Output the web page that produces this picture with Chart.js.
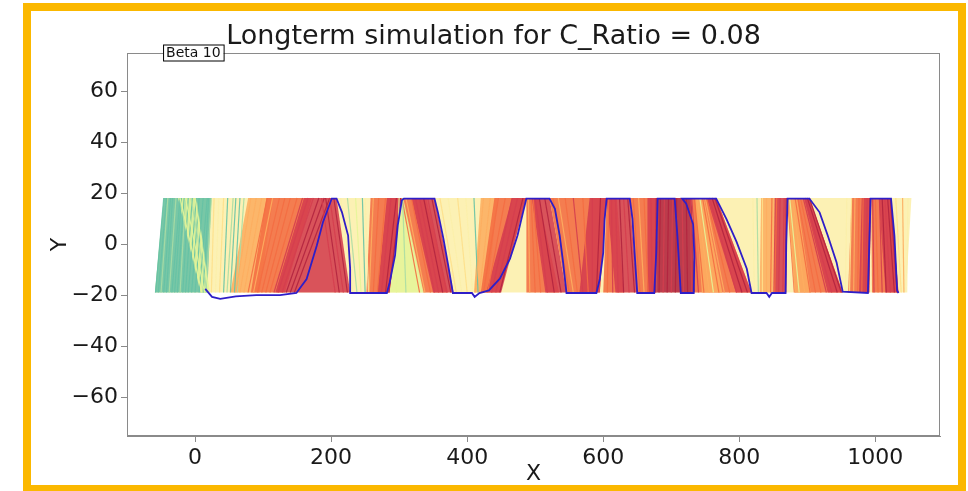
<!DOCTYPE html>
<html>
<head>
<meta charset="utf-8">
<script src="https://cdn.jsdelivr.net/npm/chart.js@4/dist/chart.umd.min.js"></script>
<style>
  html, body { margin: 0; padding: 0; background: #fff; }
  #wrap { position: relative; width: 968px; height: 491px; overflow: hidden; }
  #frame { position: absolute; left: 23px; top: 3px; width: 943px; height: 490px;
           box-sizing: border-box; border: 8px solid #fbb800; }
  #canvas { position: absolute; left: 0; top: 0; }
</style>
</head>
<body>
<div id="wrap">
  <div id="frame"></div>
  <canvas id="canvas" width="968" height="491"></canvas>
</div>
<script>
// tick labels
const xTicks = [0, 200, 400, 600, 800, 1000]
const yTicks = [-60, -40, -20, 0, 20, 40, 60]

// channel walls
const bandBottom = -18.8
const bandTop = 18.2

// colour levels (early -> late), spectral map
const spectral = ['#66c2a5', '#abdda4', '#e6f598', '#fcefaa', '#fee08b', '#fdae61', '#f46d43', '#d53e4f', '#b3233f']

// tracked trajectory (blue)
const blueX = [15,25,37,60,90,125,149,164,179,188,201,208,216,225,228,228,282,286,294,298,304,307,352,357,365,372,379,407,411,418,432,448,463,474,482,487,521,529,536,541,546,590,595,600,602,605,639,643,646,650,675,678,680,705,709,712,714,733,734,732,722,716,766,781,796,811,818,840,844,848,868,869,871,903,918,930,943,952,989,991,993,1023,1028,1032,1034]
const blueY = [-17.4,-20.5,-21.3,-20.3,-19.8,-19.8,-19,-13.5,-0.4,8.7,18,18,12.6,3.5,-9.5,-19,-19,-15,-4.3,7.5,17.3,18,18,12.6,2.4,-8,-19,-19,-20.5,-19,-18,-13.4,-5.5,3.5,12.5,18,18,14,3.5,-7,-19,-19,-13.5,-3.2,10,18,18,10,-3,-19,-19,-3,18,18,3.5,-10,-19,-19,-5,8,16,18,18,10,1,-9.5,-19,-19,-20.5,-19,-19,0,18,18,12.6,3.5,-7,-18.5,-19,0,18,18,3.5,-18,-19]

// dense trajectory bundles: x at bottom wall / top wall, colour level
const patchFootL = [-59,-59,8,52,82,118,252,268,335,350,286,410,420,428,487,515,546,565,600,618,650,665,678,735,745,795,830,850,880,882,930,960,976,995,1015]
const patchFootR = [1045,18,22,95,132,228,286,286,372,380,336,430,448,450,535,546,595,595,630,650,678,678,735,818,775,818,858,869,952,905,952,991,991,1034,1034]
const patchHeadR = [1053,24,2,115,172,208,304,304,340,352,306,445,487,487,505,521,605,605,620,639,680,680,730,766,748,766,860,870,903,885,903,994,994,1023,1023]
const patchHeadL = [-46,-46,-25,78,105,160,258,282,304,318,304,420,440,466,487,495,521,580,605,605,639,665,680,730,735,752,832,852,870,872,895,965,980,994,1005]
const patchTime = [3,0,2,5,6,7,6,7,6,7,2,5,6,7,6,7,6,7,6,7,6,7,8,6,5,7,5,7,6,5,7,6,7,6,7]

// single trajectories
const strandFoot = [
  -58,-54,-50,-46,-42,-38,-34,-30,-26,-22,-18,-14,-10,-5,0,6,12,16,
  10,14,18,20,
  24,30,36,42,47,52,58,62,
  60,66,72,78,86,92,98,104,110,116,122,128,134,140,146,
  206,212,218,224,
  232,238,244,250,255,
  256,262,268,274,280,285,
  330,338,346,352,358,364,370,376,296,310,
  384,392,400,408,416,
  412,418,424,430,436,442,448,
  492,500,508,518,528,538,
  550,556,562,570,578,584,590,
  606,614,622,630,638,646,
  654,660,666,672,677,
  682,688,694,700,706,718,724,730,
  740,748,756,762,770,778,786,796,804,812,
  822,828,834,840,846,852,858,864,868,
  882,888,896,904,912,920,928,936,944,950,
  956,962,968,974,980,986,990,
  998,1004,1010,1016,1022,1028,1032,
  1038,1042,1046
]
const strandHead = [
  -46,-42,-40,-36,-33,-28,-22,-20,-16,-14,-10,-4,2,6,12,18,20,24,
  -22,-14,-6,0,
  28,35,42,48,56,60,66,72,
  82,90,98,106,114,124,132,140,150,158,166,174,182,190,198,
  186,192,198,204,
  214,224,236,246,250,
  262,270,280,288,296,302,
  304,310,318,324,330,336,342,348,300,305,
  360,372,386,398,410,
  424,434,446,456,466,474,482,
  490,494,497,500,506,514,
  526,534,544,556,570,584,596,
  608,612,618,624,630,636,
  644,652,660,670,678,
  684,690,696,702,708,716,722,728,
  730,734,738,742,746,750,752,756,760,764,
  820,826,834,840,848,855,860,866,869,
  872,874,878,882,886,890,894,897,900,903,
  958,965,970,976,982,988,992,
  996,1000,1006,1010,1014,1018,1022,
  1030,1040,1048
]
const strandTime = [
  0,0,1,0,0,1,0,0,0,1,0,0,0,0,0,0,0,1,
  2,2,1,2,
  4,3,4,0,1,0,0,1,
  5,5,5,6,5,6,6,6,6,7,7,7,8,8,8,
  7,8,7,8,
  3,1,2,0,3,
  5,6,6,7,8,8,
  6,5,6,7,7,8,7,8,2,1,
  4,3,4,3,0,
  5,5,6,6,7,7,8,
  5,6,6,7,8,8,
  6,5,6,7,6,7,8,
  6,7,7,8,7,8,
  6,5,6,7,8,
  8,7,8,7,8,7,8,7,
  7,6,5,2,6,5,6,7,8,8,
  3,1,4,5,6,6,7,7,8,
  5,2,5,6,6,6,7,7,8,8,
  3,4,5,6,6,7,8,
  7,6,7,8,7,8,8,
  4,5,3
]

function rgba(hex, a) {
  const n = parseInt(hex.slice(1), 16)
  return 'rgba(' + (n >> 16) + ',' + ((n >> 8) & 255) + ',' + (n & 255) + ',' + a + ')'
}

const layers = []
strandTime.forEach((t, i) => {
  layers.push({
    data: [{x: strandFoot[i], y: bandBottom}, {x: strandHead[i], y: bandTop}],
    showLine: true, fill: false, borderWidth: 1.2,
    borderColor: rgba(spectral[t], 0.9), pointRadius: 0
  })
})
layers.push({
  data: blueX.map((x, i) => ({x: x, y: blueY[i]})),
  showLine: true, fill: false, borderWidth: 1.8,
  borderColor: '#2e1ec8', pointRadius: 0
})
// first in list is drawn at the bottom
layers.forEach((d, i) => { d.order = layers.length - i })

const minus = v => v < 0 ? '\u2212' + Math.abs(v) : String(v)

// bundles are filled polygons between the two walls, placed by the chart scales
const bundles = {
  id: 'bundles',
  beforeDatasetsDraw(chart) {
    const {ctx, chartArea: a, scales: {x, y}} = chart
    const yb = y.getPixelForValue(bandBottom)
    const yt = y.getPixelForValue(bandTop)
    ctx.save()
    ctx.beginPath()
    ctx.rect(a.left, a.top, a.width, a.height)
    ctx.clip()
    patchTime.forEach((t, i) => {
      ctx.beginPath()
      ctx.moveTo(x.getPixelForValue(patchFootL[i]), yb)
      ctx.lineTo(x.getPixelForValue(patchFootR[i]), yb)
      ctx.lineTo(x.getPixelForValue(patchHeadR[i]), yt)
      ctx.lineTo(x.getPixelForValue(patchHeadL[i]), yt)
      ctx.closePath()
      ctx.fillStyle = rgba(spectral[t], 0.88)
      ctx.fill()
    })
    ctx.restore()
  }
}

const frame = {
  id: 'frame',
  afterDatasetsDraw(chart) {
    const {ctx, chartArea: a, scales} = chart
    ctx.save()
    ctx.strokeStyle = '#8a8a8a'
    ctx.lineWidth = 1
    ctx.strokeRect(a.left + 0.5, a.top + 0.5, a.width - 1, a.height - 1)
    // "Beta 10" tag on the top wall
    ctx.font = '14px "DejaVu Sans"'
    const txt = 'Beta 10'
    const w = ctx.measureText(txt).width + 6
    const left = scales.x.getPixelForValue(-47)
    const mid = scales.y.getPixelForValue(75)
    ctx.fillStyle = '#fff'
    ctx.fillRect(left, mid - 8.5, w, 17)
    ctx.strokeStyle = '#000'
    ctx.strokeRect(left + 0.5, mid - 8, w, 16)
    ctx.fillStyle = '#111'
    ctx.textBaseline = 'middle'
    ctx.fillText(txt, left + 3, mid + 0.5)
    ctx.restore()
  }
}

Chart.defaults.font.family = '"DejaVu Sans"'

const axisStyle = {
  grid: {display: true, drawOnChartArea: false, drawTicks: true, tickLength: 6, color: '#8a8a8a'},
  border: {display: true, color: '#8a8a8a'},
  ticks: {font: {size: 22}, color: '#1a1a1a', padding: 3, maxRotation: 0, autoSkip: false, callback: minus}
}

const config = {
  type: 'scatter',
  data: {datasets: layers},
  options: {
    responsive: false,
    animation: false,
    devicePixelRatio: 1,
    layout: {padding: {left: 47, right: 28, top: 18, bottom: 4}},
    plugins: {
      legend: {display: false},
      tooltip: {enabled: false},
      title: {
        display: true,
        text: 'Longterm simulation for C_Ratio = 0.08',
        font: {size: 27, weight: 'normal'},
        color: '#1a1a1a',
        padding: {top: 2.3, bottom: 0.3}
      }
    },
    scales: {
      x: Object.assign({}, axisStyle, {
        type: 'linear', position: 'bottom', min: -100, max: 1095,
        title: {display: true, text: 'X', font: {size: 22}, color: '#1a1a1a', padding: 0},
        afterBuildTicks: s => { s.ticks = xTicks.map(v => ({value: v})) },
        afterFit: s => { s.height = 51 }
      }),
      y: Object.assign({}, axisStyle, {
        type: 'linear', position: 'left', min: -75, max: 75,
        title: {display: true, text: 'Y', font: {size: 22}, color: '#1a1a1a', padding: 0},
        afterBuildTicks: s => { s.ticks = yTicks.map(v => ({value: v})) },
        afterFit: s => { s.width = 80 }
      })
    }
  },
  plugins: [bundles, frame]
}

const canvas = document.getElementById('canvas')
const chart = new Chart(canvas, config)
</script>
</body>
</html>
